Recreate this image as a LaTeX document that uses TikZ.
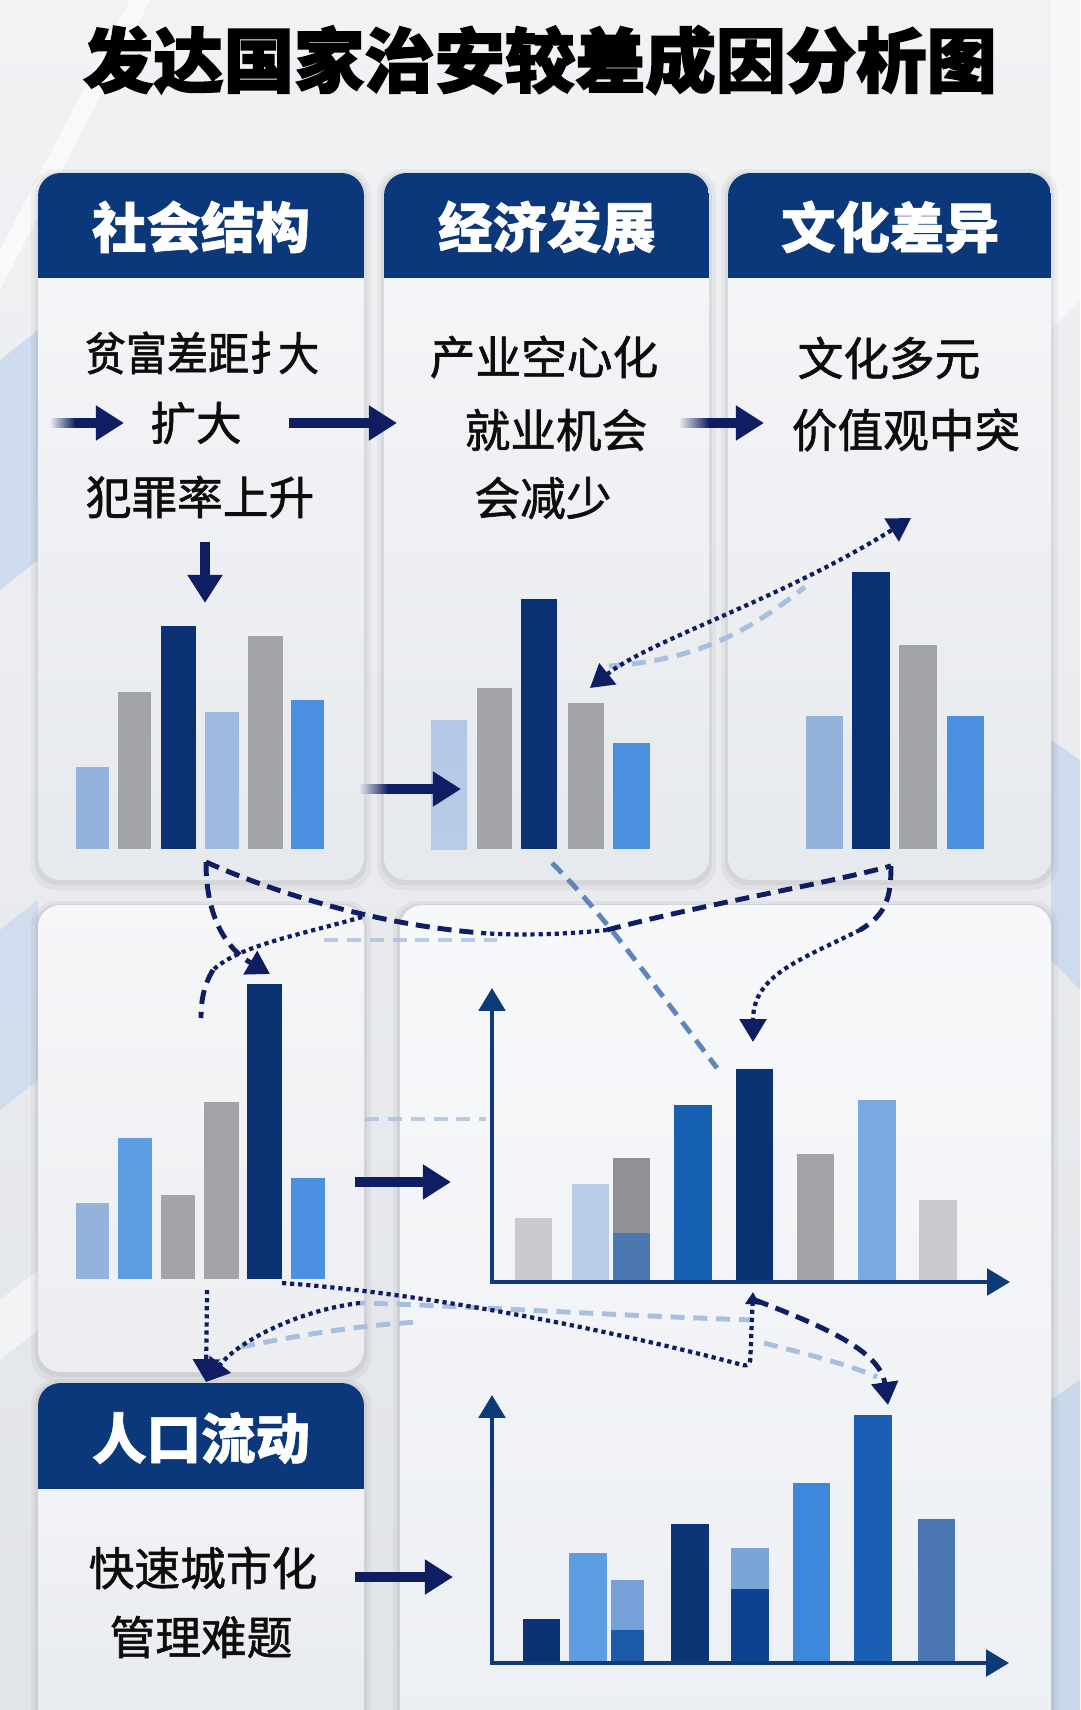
\documentclass[tikz,border=0pt]{standalone}
\usepackage{fontspec}
\setmainfont{Noto Sans CJK SC}[FakeBold=1.3]
\newfontfamily\heavyf{Noto Sans CJK SC}[BoldFeatures={FakeBold=2.2}]
\newfontfamily\hdrf{Noto Sans CJK SC}[BoldFeatures={FakeBold=1.2}]
\usetikzlibrary{arrows.meta}
\definecolor{hdr}{HTML}{0B387A}
\definecolor{arrn}{HTML}{0F1E62}
\definecolor{nv}{HTML}{0A3272}
\definecolor{gr}{HTML}{A2A4A8}
\definecolor{lbA}{HTML}{93B3DC}
\definecolor{bb}{HTML}{4A8FE0}
\definecolor{vlb}{HTML}{B8CCE6}
\definecolor{mb}{HTML}{5D9DE3}
\definecolor{lgr}{HTML}{C9CBD0}
\definecolor{grB}{HTML}{8F9196}
\definecolor{sb}{HTML}{4B78B0}
\definecolor{cb}{HTML}{1560B0}
\definecolor{mlb}{HTML}{7AA9E0}
\definecolor{axc}{HTML}{0E3A78}
\definecolor{ltd}{HTML}{A9BFDF}
\definecolor{mdd}{HTML}{5E86BC}
\definecolor{pbA}{HTML}{F6F7F9}
\definecolor{pbB}{HTML}{E6E9ED}
\definecolor{pbC}{HTML}{F5F6F8}
\definecolor{pbD}{HTML}{ECEEF1}
\definecolor{pbE}{HTML}{F7F8FA}
\definecolor{pbF}{HTML}{ECEFF3}
\definecolor{pbg}{HTML}{EDEFF2}
\definecolor{bgA}{HTML}{F1F2F4}
\definecolor{bgB}{HTML}{E1E4E9}
\definecolor{deco}{HTML}{C3D5EE}
\definecolor{cA}{HTML}{75A0D8}
\definecolor{cB}{HTML}{1C5AA8}
\definecolor{cC}{HTML}{0B3575}
\definecolor{cD}{HTML}{7AA3D8}
\definecolor{cE}{HTML}{0D4290}
\definecolor{cF}{HTML}{3D88DA}
\definecolor{cG}{HTML}{1A5FB4}
\definecolor{cH}{HTML}{4A77B2}
\newcommand\panelshadow[4]{%
  \fill[black,opacity=0.04,rounded corners=0.5cm] (#1-7,#2-4) rectangle (#3+7,#4+10);
  \fill[black,opacity=0.05,rounded corners=0.45cm] (#1-3,#2-1) rectangle (#3+3,#4+5);}
\newcommand\hpanel[5]{%
  \panelshadow{#1}{#2}{#3}{#4}
  \shade[top color=pbA, bottom color=pbB, rounded corners=0.45cm] (#1,#2) rectangle (#3,#4);
  \begin{scope}
    \clip[rounded corners=0.45cm] (#1,#2) rectangle (#3,#4);
    \fill[hdr] (#1,#2) rectangle (#3,#5);
  \end{scope}}
\newcommand\ppanel[6]{%
  \panelshadow{#1}{#2}{#3}{#4}
  \shade[top color=#5, bottom color=#6, rounded corners=0.45cm] (#1,#2) rectangle (#3,#4);}
\newcommand\gtail[4]{% x0 y len halfheight
  \shade[left color=pbg, right color=arrn] (#1,#2-#4) rectangle (#1+#3,#2+#4);}
\tikzset{
  bigarr/.style={draw=arrn, line width=5.2pt, -{Triangle[length=16pt,width=19pt]}},
  axisl/.style={draw=axc, line width=2.3pt},
  dsh/.style={draw=arrn, line width=2.8pt, dash pattern=on 8pt off 4.5pt},
  dotl/.style={draw=arrn, line width=2.4pt, dash pattern=on 2.4pt off 2.2pt},
  ltdsh/.style={draw=ltd, line width=2.8pt, dash pattern=on 8pt off 5pt},
  mddsh/.style={draw=mdd, line width=2.8pt, dash pattern=on 8pt off 5pt},
  tipA/.style={-{Triangle[length=13pt,width=15pt]}},
  bt/.style={font=\fontsize{26pt}{30pt}\selectfont, text=black!95, inner sep=0pt},
  hdt/.style={font=\hdrf\bfseries\fontsize{31pt}{36pt}\selectfont, text=white, inner sep=0pt},
  ttl/.style={font=\heavyf\bfseries\fontsize{40pt}{46pt}\selectfont, text=black, inner sep=0pt}
}
\begin{document}
\begin{tikzpicture}[x=0.02cm,y=-0.02cm]
\useasboundingbox (0,0) rectangle (1080,1710);
% background
\shade[top color=bgA, bottom color=bgB] (0,0) rectangle (1080,1710);
\fill[white,opacity=0.6] (0,250) -- (130,0) -- (150,0) -- (0,290) -- cycle;
\fill[deco,opacity=0.7] (0,360) -- (38,330) -- (38,560) -- (0,590) -- cycle;
\fill[deco,opacity=0.6] (0,930) -- (38,900) -- (38,1080) -- (0,1110) -- cycle;
\fill[white,opacity=0.5] (0,1300) -- (38,1270) -- (38,1330) -- (0,1360) -- cycle;
\fill[deco,opacity=0.7] (1051,740) -- (1080,760) -- (1080,990) -- (1051,960) -- cycle;
\fill[deco,opacity=0.8] (1051,1400) -- (1080,1380) -- (1080,1710) -- (1051,1710) -- cycle;
\fill[white,opacity=0.5] (1051,0) -- (1080,0) -- (1080,300) -- (1051,330) -- cycle;

% title
\node[ttl] (title) at (540,60) {发达国家治安较差成因分析图};

% panels
\hpanel{38}{173}{364}{880}{278}
\hpanel{384}{173}{709}{880}{278}
\hpanel{728}{173}{1051}{880}{278}
\ppanel{38}{905}{364}{1372}{pbC}{pbD}
\ppanel{400}{905}{1051}{1750}{pbE}{pbF}
\hpanel{38}{1383}{364}{1760}{1489}

% headers
\node[hdt] (h1) at (201,227) {社会结构};
\node[hdt] (h2) at (547,227) {经济发展};
\node[hdt] (h3) at (890,227) {文化差异};
\node[hdt] (h5) at (201,1438) {人口流动};

% body texts
\node[bt] (t1a) at (202,353) {\scalebox{0.9}[1]{贫富差距扌\kern-0.3em 大}};
\node[bt] (t1b) at (196,423) {扩大};
\node[bt] (t1c) at (200,497) {犯罪率上升};
\node[bt] (t2a) at (544,357) {产业空心化};
\node[bt] (t2b) at (556,430) {就业机会};
\node[bt] (t2c) at (543,498) {会减少};
\node[bt] (t3a) at (889,358) {文化多元};
\node[bt] (t3b) at (906,430) {价值观中突};
\node[bt] (t5a) at (203,1568) {快速城市化};
\node[bt] (t5b) at (201,1637) {管理难题};

% bars panel 1
\fill[lbA] (76,767) rectangle (109,849);
\fill[gr] (118,692) rectangle (151,849);
\fill[nv] (161,626) rectangle (196,849);
\fill[lbA!90!white] (205,712) rectangle (239,849);
\fill[gr] (248,636) rectangle (283,849);
\fill[bb] (291,700) rectangle (324,849);
% bars panel 2
\shade[top color=vlb!85!lbA, bottom color=vlb] (431,720) rectangle (467,849);
\fill[gr] (477,688) rectangle (512,849);
\fill[nv] (521,599) rectangle (557,849);
\fill[gr] (568,703) rectangle (604,849);
\fill[bb] (613,743) rectangle (650,849);
% bars panel 3
\fill[lbA] (806,716) rectangle (843,849);
\fill[nv] (852,572) rectangle (890,849);
\fill[gr] (899,645) rectangle (937,849);
\fill[bb] (947,716) rectangle (984,849);
% bars panel 4
\fill[lbA] (76,1203) rectangle (109,1279);
\fill[mb] (118,1138) rectangle (152,1279);
\fill[gr] (161,1195) rectangle (195,1279);
\fill[gr] (204,1102) rectangle (239,1279);
\fill[nv] (247,984) rectangle (282,1279);
\fill[bb] (291,1178) rectangle (325,1279);
% chart 1 bars
\fill[lgr] (515,1218) rectangle (552,1280);
\fill[vlb] (572,1184) rectangle (609,1280);
\fill[grB] (613,1158) rectangle (650,1280);
\fill[sb] (613,1233) rectangle (650,1280);
\fill[cb] (674,1105) rectangle (712,1280);
\fill[nv] (736,1069) rectangle (773,1280);
\fill[gr] (797,1154) rectangle (834,1280);
\fill[mlb] (858,1100) rectangle (896,1280);
\fill[lgr] (919,1200) rectangle (957,1280);
% chart 2 bars
\fill[nv] (523,1619) rectangle (560,1661);
\fill[mb] (569,1553) rectangle (607,1661);
\fill[cA] (611,1580) rectangle (644,1661);
\fill[cB] (611,1630) rectangle (644,1661);
\fill[cC] (671,1524) rectangle (709,1661);
\fill[cD] (731,1548) rectangle (769,1661);
\fill[cE] (731,1589) rectangle (769,1661);
\fill[cF] (793,1483) rectangle (830,1661);
\fill[cG] (854,1415) rectangle (892,1661);
\fill[cH] (918,1519) rectangle (955,1661);

% axes
\coordinate (c1top) at (492,988); \coordinate (c1o) at (492,1282); \coordinate (c1r) at (1010,1282);
\coordinate (c2top) at (492,1395); \coordinate (c2o) at (492,1663); \coordinate (c2r) at (1009,1663);
\draw[axisl, {Triangle[length=13pt,width=15pt]}-{Triangle[length=13pt,width=15pt]}, line join=miter] (c1top) -- (c1o) -- (c1r);
\draw[axisl, {Triangle[length=13pt,width=15pt]}-{Triangle[length=13pt,width=15pt]}, line join=miter] (c2top) -- (c2o) -- (c2r);

% solid arrows
\coordinate (a1s) at (62,423); \coordinate (a1e) at (124,423);
\coordinate (a2s) at (289,423); \coordinate (a2e) at (397,423);
\coordinate (a3s) at (679,423); \coordinate (a3e) at (764,423);
\coordinate (a4s) at (205,542); \coordinate (a4e) at (205,603);
\coordinate (a5s) at (362,789); \coordinate (a5e) at (461,789);
\coordinate (a6s) at (355,1182); \coordinate (a6e) at (451,1182);
\coordinate (a7s) at (355,1577); \coordinate (a7e) at (453,1577);
\draw[bigarr] (a1s) -- (a1e); \gtail{50}{423}{25}{4.6}
\draw[bigarr] (a2s) -- (a2e);
\draw[bigarr] (a3s) -- (a3e); \gtail{679}{423}{30}{4.6}
\draw[bigarr] (a4s) -- (a4e);
\draw[bigarr] (a5s) -- (a5e); \gtail{358}{789}{30}{4.6}
\draw[bigarr] (a6s) -- (a6e);
\draw[bigarr] (a7s) -- (a7e);

% connector coordinates
\coordinate (p1bot) at (206,862);
\coordinate (p4tip) at (270,974);
\coordinate (jA) at (482,933);
\coordinate (jB) at (607,930);
\coordinate (p3bot) at (891,866);
\coordinate (jC) at (860,930);
\coordinate (c1tip) at (753,1042);
\coordinate (jD) at (362,917);
\coordinate (jE) at (213,970);
\coordinate (jF) at (201,1018);
\coordinate (l1a) at (324,940); \coordinate (l1b) at (497,940);
\coordinate (l2a) at (365,1119); \coordinate (l2b) at (486,1119);
\coordinate (l3a) at (552,863); \coordinate (l3b) at (717,1068);
\coordinate (l4a) at (609,666); \coordinate (l4b) at (805,587);
\coordinate (daA) at (590,688); \coordinate (daB) at (911,518);
\coordinate (p4b6) at (282,1283);
\coordinate (kB) at (750,1367);
\coordinate (c1bot) at (753,1292);
\coordinate (c1b2) at (755,1300);
\coordinate (c2tip) at (888,1405);
\coordinate (kC) at (753,1320); \coordinate (kD) at (360,1303);
\coordinate (p5tip) at (206,1382);
\coordinate (p4dn) at (207,1290);
\coordinate (l5a) at (241,1347); \coordinate (l5b) at (420,1322);
\coordinate (l6a) at (764,1343); \coordinate (l6b) at (877,1377);

% light dashed lines
\draw[ltdsh, opacity=0.8] (l1a) -- (l1b);
\draw[ltdsh, opacity=0.8] (l2a) -- (l2b);
\draw[mddsh] (l3a) .. controls (600,910) and (650,980) .. (l3b);
\draw[ltdsh] (l4a) .. controls (700,660) and (750,630) .. (l4b);
\draw[ltdsh] (kC) .. controls (600,1315) and (450,1305) .. (kD);
\draw[ltdsh] (l5a) .. controls (300,1335) and (360,1325) .. (l5b);
\draw[ltdsh] (l6a) .. controls (810,1355) and (850,1365) .. (l6b);

% navy connectors (upper)
\draw[dotl, {Triangle[length=13pt,width=15pt]}-{Triangle[length=13pt,width=15pt]}] (daA) .. controls (650,640) and (780,600) .. (daB);
\draw[dsh, tipA] (p1bot) .. controls (206,925) and (232,952) .. (p4tip);
\draw[dsh] (p1bot) .. controls (280,895) and (380,925) .. (jA);
\draw[dotl] (jA) .. controls (520,936) and (570,934) .. (jB);
\draw[dsh] (jB) .. controls (700,905) and (820,885) .. (p3bot);
\draw[dsh] (p3bot) .. controls (891,900) and (885,915) .. (jC);
\draw[dotl, tipA] (jC) .. controls (800,960) and (753,975) .. (c1tip);
\draw[dotl] (jD) .. controls (300,935) and (240,945) .. (jE);
\draw[dsh] (jE) .. controls (204,985) and (201,1000) .. (jF);

% navy connectors (lower)
\draw[dotl, -{Triangle[length=7pt,width=8pt]}, rounded corners=4pt] (p4b6) .. controls (450,1295) and (650,1340) .. (kB) -- (c1bot);
\draw[dsh, tipA] (c1b2) .. controls (820,1325) and (880,1350) .. (c2tip);
\draw[dotl, tipA] (kD) .. controls (300,1310) and (240,1340) .. (p5tip);
\draw[dotl, tipA] (p4dn) -- (p5tip);
\end{tikzpicture}
\end{document}
